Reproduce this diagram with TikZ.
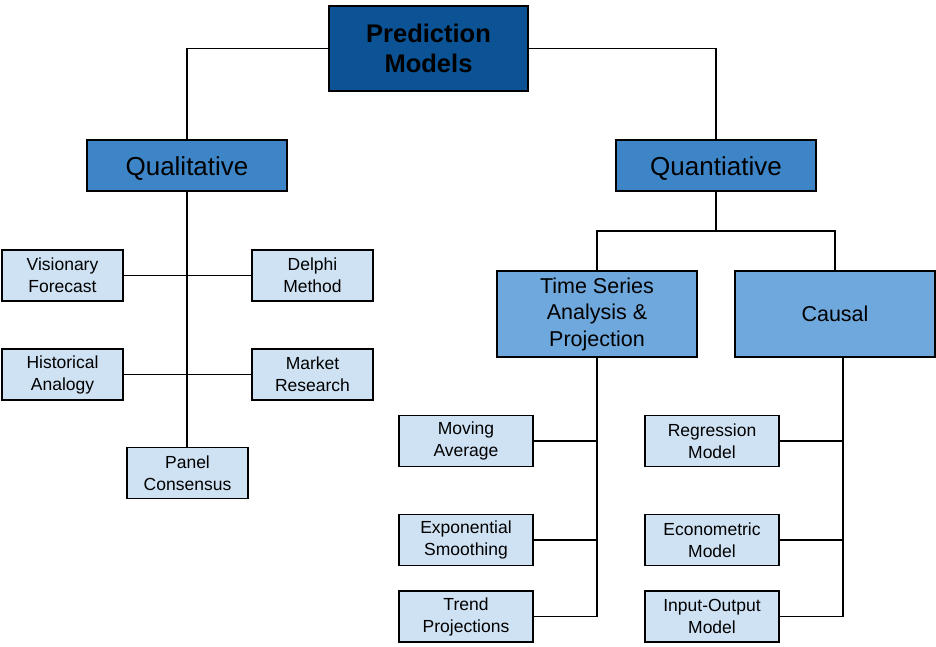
\documentclass[tikz,border=0pt]{standalone}
\usepackage{fontspec}
\setmainfont{Liberation Sans}
\begin{document}
\begin{tikzpicture}[x=1pt,y=-1pt,
  every node/.style={draw=black,line width=1.3pt,align=center,inner sep=0pt,text=black},
  rootbox/.style={fill=rootblue,minimum width=199pt,minimum height=85pt,
    font=\fontsize{25.5}{30}\selectfont\bfseries},
  catbox/.style={fill=catblue,minimum width=200pt,minimum height=51pt,
    text height=19pt,text depth=0pt,
    font=\fontsize{26}{30}\selectfont},
  subbox/.style={fill=subblue,minimum width=200pt,minimum height=86pt,
    font=\fontsize{21.5}{26.5}\selectfont},
  leafbox/.style={fill=leafblue,minimum width=121pt,minimum height=51pt,
    font=\fontsize{17.5}{22}\selectfont},
  wideleaf/.style={leafbox,minimum width=134pt},
  link/.style={draw=black,line width=1.3pt}]
\definecolor{rootblue}{HTML}{0B5394}
\definecolor{catblue}{HTML}{3D85C6}
\definecolor{subblue}{HTML}{6FA8DC}
\definecolor{leafblue}{HTML}{CFE2F3}
\useasboundingbox (0,0) rectangle (936,646);

% top levels
\node[rootbox] (root) at (428.5,48.5) {Prediction\\Models};
\node[catbox] (qual) at (187,165.5) {Qualitative};
\node[catbox] (quant) at (716,165.5) {Quantiative};
\node[subbox] (ts) at (597,314) {Time Series\\Analysis \&\\Projection};
\node[subbox] (causal) at (835,314) {Causal};

% qualitative methods
\node[leafbox] (vis) at (62.5,275.5) {Visionary\\Forecast};
\node[leafbox] (delphi) at (312.5,275.5) {Delphi\\Method};
\node[leafbox] (hist) at (62.5,374.5) {Historical\\Analogy};
\node[leafbox] (market) at (312.5,374.5) {Market\\Research};
\node[leafbox] (panel) at (187.5,473) {Panel\\Consensus};

% time series methods
\node[wideleaf] (mavg) at (466,441) {Moving\\Average};
\node[wideleaf] (expo) at (466,540) {Exponential\\Smoothing};
\node[wideleaf] (trend) at (466,616.5) {Trend\\Projections};

% causal methods
\node[wideleaf] (regr) at (712,441) {Regression\\Model};
\node[wideleaf] (econ) at (712,540) {Econometric\\Model};
\node[wideleaf] (io) at (712,616.5) {Input-Output\\Model};

% root to categories
\draw[link] (root.west) -| (qual.north);
\draw[link] (root.east) -| (quant.north);

% qualitative trunk and branches
\draw[link] (qual.south) -- (panel.north -| qual.south);
\draw[link] (vis.east) -- (delphi.west);
\draw[link] (hist.east) -- (market.west);

% quantitative split
\coordinate (qsplit) at (716,231);
\draw[link] (quant.south) -- (qsplit);
\draw[link] (ts.north) |- (qsplit) -| (causal.north);

% time series trunk
\draw[link] (ts.south) |- (trend.east);
\draw[link] (mavg.east) -- (mavg.east -| ts.south);
\draw[link] (expo.east) -- (expo.east -| ts.south);

% causal trunk (offset right of centre)
\coordinate (cbase) at ([xshift=8pt]causal.south);
\draw[link] (cbase) |- (io.east);
\draw[link] (regr.east) -- (regr.east -| cbase);
\draw[link] (econ.east) -- (econ.east -| cbase);
\end{tikzpicture}
\end{document}
